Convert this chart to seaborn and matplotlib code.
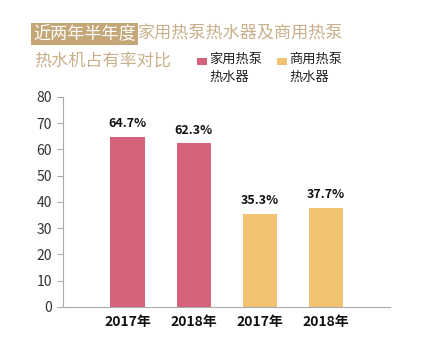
import pandas as pd
import matplotlib
matplotlib.use("Agg")
import matplotlib.pyplot as plt
import seaborn as sns
from matplotlib.patches import Rectangle

# 数据
groups = ["家用热泵热水器", "家用热泵热水器", "商用热泵热水器", "商用热泵热水器"]
years = ["2017年", "2018年", "2017年", "2018年"]
shares = [64.7, 62.3, 35.3, 37.7]
legend_labels = ["家用热泵\n热水器", "商用热泵\n热水器"]
colors = ["#d5637a", "#f0c272"]

df = pd.DataFrame({"组": groups, "年份": years, "占有率": shares})
df["key"] = [f"{g}-{y}" for g, y in zip(groups, years)]

sns.set_style("white")
plt.rcParams["font.family"] = ["Noto Sans CJK SC", "DejaVu Sans"]

fig = plt.figure(figsize=(4.4, 3.58), dpi=100)
ax = fig.add_axes([0.143, 0.1425, 0.743, 0.5866])

sns.barplot(data=df, x="key", y="占有率", hue="组", palette=colors,
            dodge=False, width=0.52, legend=False, ax=ax, saturation=1,
            linewidth=0)

# 柱顶标签
for cont in ax.containers:
    ax.bar_label(cont, labels=[f"{v:.1f}%" for v in cont.datavalues],
                 padding=5, fontsize=9, fontweight="bold", color="#111111")

ax.set_xlim(-0.98, 3.97)
ax.set_ylim(0, 80)
ax.set_yticks(range(0, 81, 10))
ax.set_xticks(range(len(years)))
ax.set_xticklabels(years, fontsize=10, fontweight="bold", color="#111111")
ax.set_xlabel("")
ax.set_ylabel("")
ax.tick_params(axis="y", labelsize=10, colors="#333333", length=4, width=0.8,
               color="#aaaaaa", pad=4, left=True)
ax.tick_params(axis="x", length=0, pad=6)
for s in ["top", "right"]:
    ax.spines[s].set_visible(False)
for s in ["left", "bottom"]:
    ax.spines[s].set_color("#aaaaaa")
    ax.spines[s].set_linewidth(0.8)

# 标题
tan = "#c4a677"
fig.text(33 / 440, 1 - 34 / 358, "近两年半年度", fontsize=12.3, color="white",
         va="center", ha="left",
         bbox=dict(boxstyle="square,pad=0.12", fc=tan, ec="none"))
fig.text(137 / 440, 1 - 34 / 358, "家用热泵热水器及商用热泵", fontsize=12.3,
         color="#c9b08a", va="center", ha="left")
fig.text(34 / 440, 1 - 62 / 358, "热水机占有率对比", fontsize=12.3,
         color="#c9b08a", va="center", ha="left")

# 图例
for i, (lab, c) in enumerate(zip(legend_labels, colors)):
    x0 = (197 + 80 * i) / 440
    fig.patches.append(Rectangle((x0, 1 - 65 / 358), 10 / 440, 7 / 358,
                                 transform=fig.transFigure, fc=c, ec="none"))
    fig.text(x0 + 12 / 440, 1 - 53 / 358, lab, fontsize=9.5, color="#222222",
             va="top", ha="left", linespacing=1.5)

fig.savefig("out.png", dpi=100)
